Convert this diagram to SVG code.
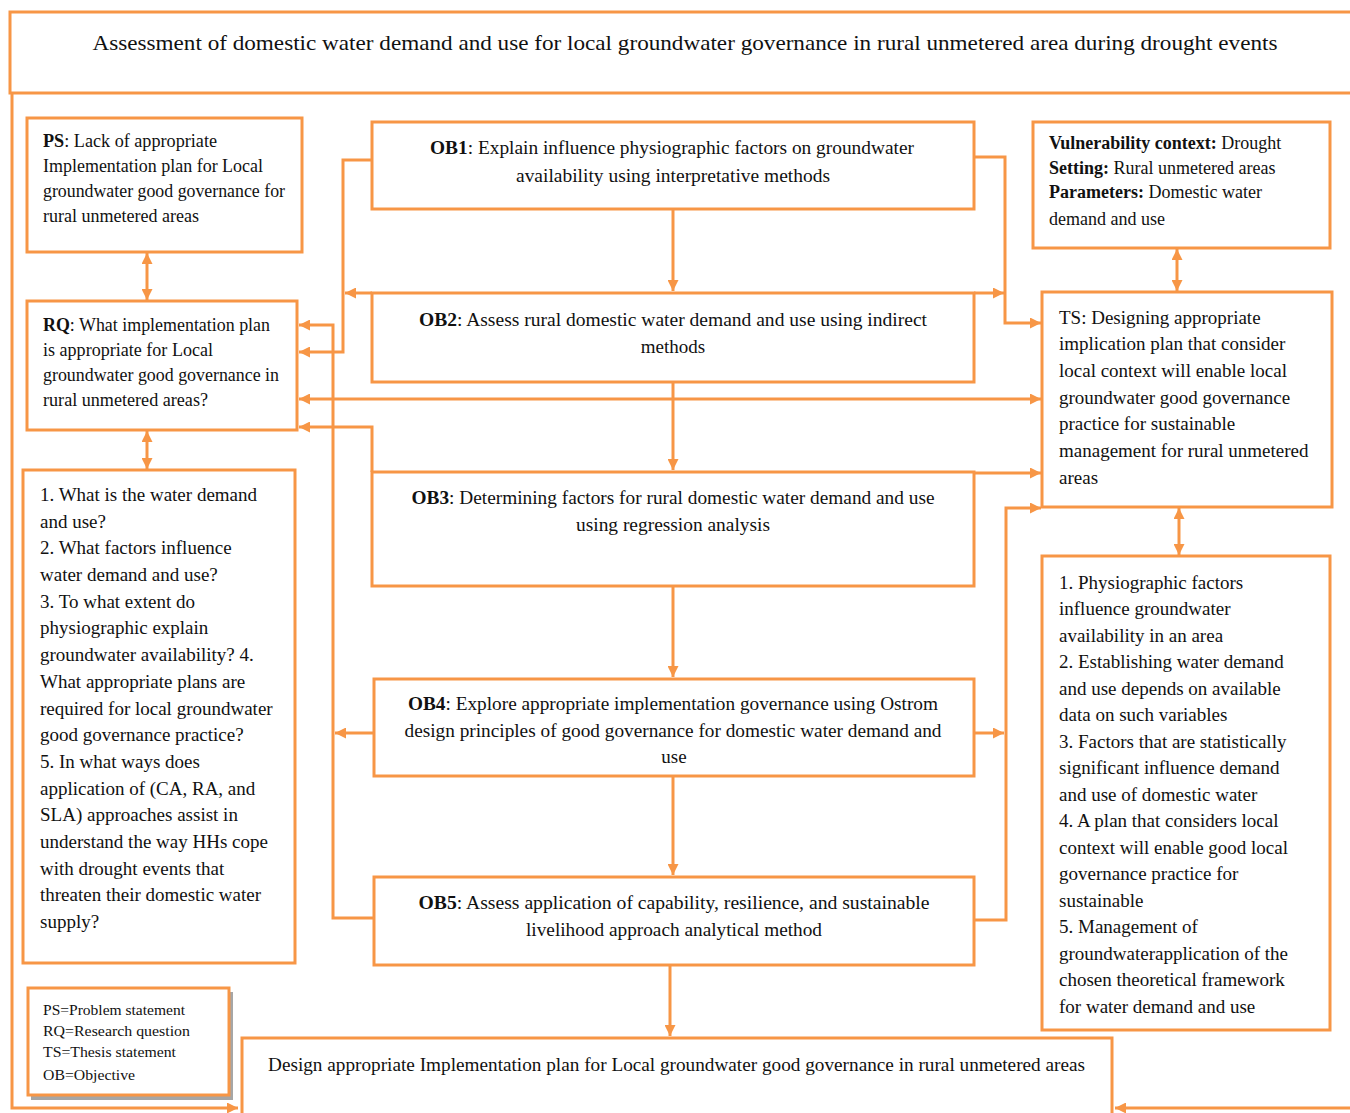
<svg xmlns="http://www.w3.org/2000/svg" width="1350" height="1113" viewBox="0 0 1350 1113">
<style>
.box{fill:#fff;stroke:#F79646;stroke-width:3}
.con{fill:none;stroke:#F79646;stroke-width:3}
text{font-family:"Liberation Serif","Times New Roman",serif;font-size:19px;fill:#111}
.c{text-anchor:middle}
.b{font-weight:bold}
.t{font-size:22px}
.lg{font-size:15px}
.v{font-size:18px}
</style>
<defs>
<marker id="ah" viewBox="0 0 10 10" refX="10" refY="5" markerWidth="12" markerHeight="11" markerUnits="userSpaceOnUse" orient="auto-start-reverse">
<path d="M0,0 L10,5 L0,10 z" fill="#F79646"/>
</marker>
</defs>
<rect width="1350" height="1113" fill="#fff"/>

<g id="title">
<rect class="box" x="10" y="12" width="1350" height="81"/>
<text class="t c" x="685" y="50" textLength="1185" lengthAdjust="spacingAndGlyphs">Assessment of domestic water demand and use for local groundwater governance in rural unmetered area during drought events</text>
</g>

<g id="connectors">
<path class="con" d="M12,93 V1108 H238" marker-end="url(#ah)"/>
<path class="con" d="M1350,1108 H1115" marker-end="url(#ah)"/>
<path class="con" d="M673,209 V291" marker-end="url(#ah)"/>
<path class="con" d="M673,382 V470" marker-end="url(#ah)"/>
<path class="con" d="M673,586 V677" marker-end="url(#ah)"/>
<path class="con" d="M673,776 V875" marker-end="url(#ah)"/>
<path class="con" d="M670,965 V1036" marker-end="url(#ah)"/>
<path class="con" d="M147,253 V300" marker-start="url(#ah)" marker-end="url(#ah)"/>
<path class="con" d="M147,431 V469" marker-start="url(#ah)" marker-end="url(#ah)"/>
<path class="con" d="M1177,249 V291" marker-start="url(#ah)" marker-end="url(#ah)"/>
<path class="con" d="M1179,508 V555" marker-start="url(#ah)" marker-end="url(#ah)"/>
<path class="con" d="M372,160 H343 V352 H299" marker-end="url(#ah)"/>
<path class="con" d="M372,293 H345" marker-end="url(#ah)"/>
<path class="con" d="M974,293 H1004" marker-end="url(#ah)"/>
<path class="con" d="M974,157 H1005 V323 H1041" marker-end="url(#ah)"/>
<path class="con" d="M299,399 H1041" marker-start="url(#ah)" marker-end="url(#ah)"/>
<path class="con" d="M372,472 V427 H299" marker-end="url(#ah)"/>
<path class="con" d="M374,918 H333 V325 H299" marker-end="url(#ah)"/>
<path class="con" d="M374,733 H335" marker-end="url(#ah)"/>
<path class="con" d="M974,733 H1004" marker-end="url(#ah)"/>
<path class="con" d="M974,473 H1041" marker-end="url(#ah)"/>
<path class="con" d="M974,920 H1006 V508 H1041" marker-end="url(#ah)"/>
</g>

<g id="ps">
<rect class="box" x="27" y="118" width="275" height="134"/>
<text x="43" y="147" textLength="174" lengthAdjust="spacingAndGlyphs"><tspan class="b">PS</tspan>: Lack of appropriate</text>
<text x="43" y="172" textLength="220" lengthAdjust="spacingAndGlyphs">Implementation plan for Local</text>
<text x="43" y="197" textLength="242" lengthAdjust="spacingAndGlyphs">groundwater good governance for</text>
<text x="43" y="222" textLength="156" lengthAdjust="spacingAndGlyphs">rural unmetered areas</text>
</g>

<g id="rq">
<rect class="box" x="27" y="301" width="270" height="129"/>
<text x="43" y="331" textLength="227" lengthAdjust="spacingAndGlyphs"><tspan class="b">RQ</tspan>: What implementation plan</text>
<text x="43" y="356" textLength="170" lengthAdjust="spacingAndGlyphs">is appropriate for Local</text>
<text x="43" y="381" textLength="236" lengthAdjust="spacingAndGlyphs">groundwater good governance in</text>
<text x="43" y="406" textLength="165" lengthAdjust="spacingAndGlyphs">rural unmetered areas?</text>
</g>

<g id="questions">
<rect class="box" x="23" y="470" width="272" height="493"/>
<text x="40" y="501">1. What is the water demand</text>
<text x="40" y="528">and use?</text>
<text x="40" y="554">2. What factors influence</text>
<text x="40" y="581">water demand and use?</text>
<text x="40" y="608">3. To what extent do</text>
<text x="40" y="634">physiographic explain</text>
<text x="40" y="661">groundwater availability? 4.</text>
<text x="40" y="688">What appropriate plans are</text>
<text x="40" y="715">required for local groundwater</text>
<text x="40" y="741">good governance practice?</text>
<text x="40" y="768">5. In what ways does</text>
<text x="40" y="795">application of (CA, RA, and</text>
<text x="40" y="821">SLA) approaches assist in</text>
<text x="40" y="848">understand the way HHs cope</text>
<text x="40" y="875">with drought events that</text>
<text x="40" y="901">threaten their domestic water</text>
<text x="40" y="928">supply?</text>
</g>

<g id="ob1">
<rect class="box" x="372" y="122" width="602" height="87"/>
<text class="c" x="672" y="154" textLength="484" lengthAdjust="spacingAndGlyphs"><tspan class="b">OB1</tspan>: Explain influence physiographic factors on groundwater</text>
<text class="c" x="673" y="182" textLength="314" lengthAdjust="spacingAndGlyphs">availability using interpretative methods</text>
</g>

<g id="ob2">
<rect class="box" x="372" y="293" width="602" height="89"/>
<text class="c" x="673" y="326" textLength="508" lengthAdjust="spacingAndGlyphs"><tspan class="b">OB2</tspan>: Assess rural domestic water demand and use using indirect</text>
<text class="c" x="673" y="353">methods</text>
</g>

<g id="ob3">
<rect class="box" x="372" y="472" width="602" height="114"/>
<text class="c" x="673" y="504" textLength="523" lengthAdjust="spacingAndGlyphs"><tspan class="b">OB3</tspan>: Determining factors for rural domestic water demand and use</text>
<text class="c" x="673" y="531" textLength="194" lengthAdjust="spacingAndGlyphs">using regression analysis</text>
</g>

<g id="ob4">
<rect class="box" x="374" y="679" width="600" height="97"/>
<text class="c" x="673" y="710" textLength="530" lengthAdjust="spacingAndGlyphs"><tspan class="b">OB4</tspan>: Explore appropriate implementation governance using Ostrom</text>
<text class="c" x="673" y="737" textLength="537" lengthAdjust="spacingAndGlyphs">design principles of good governance for domestic water demand and</text>
<text class="c" x="674" y="763">use</text>
</g>

<g id="ob5">
<rect class="box" x="374" y="877" width="600" height="88"/>
<text class="c" x="674" y="909" textLength="511" lengthAdjust="spacingAndGlyphs"><tspan class="b">OB5</tspan>: Assess application of capability, resilience, and sustainable</text>
<text class="c" x="674" y="936" textLength="296" lengthAdjust="spacingAndGlyphs">livelihood approach analytical method</text>
</g>

<g id="vulnerability">
<rect class="box" x="1033" y="122" width="297" height="126"/>
<text class="v" x="1049" y="149"><tspan class="b">Vulnerability context:</tspan> Drought</text>
<text class="v" x="1049" y="174"><tspan class="b">Setting:</tspan> Rural unmetered areas</text>
<text class="v" x="1049" y="198"><tspan class="b">Parameters:</tspan> Domestic water</text>
<text class="v" x="1049" y="225">demand and use</text>
</g>

<g id="ts">
<rect class="box" x="1042" y="292" width="290" height="215"/>
<text x="1059" y="324">TS: Designing appropriate</text>
<text x="1059" y="350">implication plan that consider</text>
<text x="1059" y="377">local context will enable local</text>
<text x="1059" y="404">groundwater good governance</text>
<text x="1059" y="430">practice for sustainable</text>
<text x="1059" y="457">management for rural unmetered</text>
<text x="1059" y="484">areas</text>
</g>

<g id="answers">
<rect class="box" x="1042" y="556" width="288" height="474"/>
<text x="1059" y="589">1. Physiographic factors</text>
<text x="1059" y="615">influence groundwater</text>
<text x="1059" y="642">availability in an area</text>
<text x="1059" y="668">2. Establishing water demand</text>
<text x="1059" y="695">and use depends on available</text>
<text x="1059" y="721">data on such variables</text>
<text x="1059" y="748">3. Factors that are statistically</text>
<text x="1059" y="774">significant influence demand</text>
<text x="1059" y="801">and use of domestic water</text>
<text x="1059" y="827">4. A plan that considers local</text>
<text x="1059" y="854">context will enable good local</text>
<text x="1059" y="880">governance practice for</text>
<text x="1059" y="907">sustainable</text>
<text x="1059" y="933">5. Management of</text>
<text x="1059" y="960">groundwaterapplication of the</text>
<text x="1059" y="986">chosen theoretical framework</text>
<text x="1059" y="1013">for water demand and use</text>
</g>

<g id="legend">
<rect x="31" y="992" width="202" height="108" fill="#a6a6a6"/>
<rect class="box" x="28" y="988" width="201" height="107"/>
<text class="lg" x="43" y="1015" textLength="142" lengthAdjust="spacingAndGlyphs">PS=Problem statement</text>
<text class="lg" x="43" y="1036" textLength="147" lengthAdjust="spacingAndGlyphs">RQ=Research question</text>
<text class="lg" x="43" y="1057" textLength="133" lengthAdjust="spacingAndGlyphs">TS=Thesis statement</text>
<text class="lg" x="43" y="1080" textLength="92" lengthAdjust="spacingAndGlyphs">OB=Objective</text>
</g>

<g id="final">
<rect class="box" x="242" y="1038" width="870" height="90"/>
<text x="268" y="1071" textLength="817" lengthAdjust="spacingAndGlyphs">Design appropriate Implementation plan for Local groundwater good governance in rural unmetered areas</text>
</g>
</svg>
